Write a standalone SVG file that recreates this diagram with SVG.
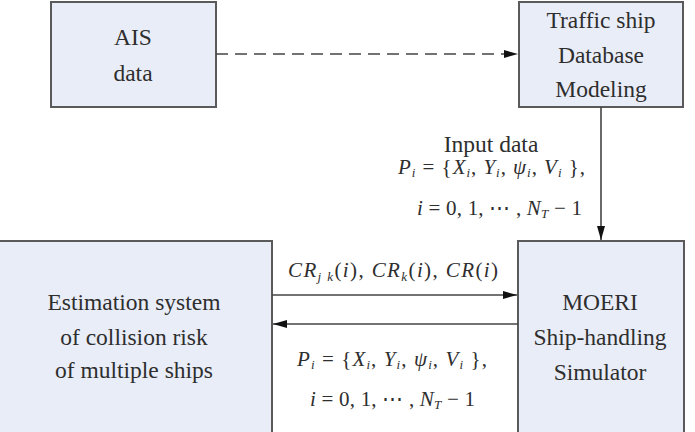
<svg xmlns="http://www.w3.org/2000/svg" width="695" height="432" viewBox="0 0 695 432">
  <style>
    .box { fill: #e9edf7; stroke: #5a5a5a; stroke-width: 2; }
    .lbl { font-family: "Liberation Serif", "Times New Roman", serif; font-size: 23.5px; fill: #2e2e2e; text-anchor: middle; }
    .eq { font-family: "Liberation Serif", "Times New Roman", serif; font-size: 21px; fill: #2e2e2e; }
    .v { font-style: italic; }
    .wire { stroke: #444; stroke-width: 1.6; fill: none; }
    .dash { stroke-dasharray: 12 7; }
  </style>
  <defs>
    <marker id="arrow" viewBox="0 0 14 8" refX="14" refY="4" markerWidth="14" markerHeight="8" markerUnits="userSpaceOnUse" orient="auto">
      <path d="M0,0 L14,4 L0,8 Z" fill="#111"/>
    </marker>
  </defs>

  <!-- blocks -->
  <g id="ais">
    <rect class="box" x="51" y="2" width="165" height="105"/>
    <text class="lbl" x="133" y="45">AIS</text>
    <text class="lbl" x="133" y="81">data</text>
  </g>
  <g id="traffic-db">
    <rect class="box" x="519" y="2" width="164" height="105"/>
    <text class="lbl" x="601" y="28">Traffic ship</text>
    <text class="lbl" x="601" y="63">Database</text>
    <text class="lbl" x="601" y="97">Modeling</text>
  </g>
  <g id="estimation">
    <rect class="box" x="-5" y="241" width="277" height="200"/>
    <text class="lbl" x="134" y="310">Estimation system</text>
    <text class="lbl" x="134" y="345">of collision risk</text>
    <text class="lbl" x="134" y="378">of multiple ships</text>
  </g>
  <g id="simulator">
    <rect class="box" x="518" y="241" width="166" height="200"/>
    <text class="lbl" x="600" y="310">MOERI</text>
    <text class="lbl" x="600" y="345">Ship-handling</text>
    <text class="lbl" x="600" y="380">Simulator</text>
  </g>

  <!-- connectors -->
  <g id="connectors">
    <line class="wire dash" x1="216" y1="54" x2="518" y2="54" marker-end="url(#arrow)"/>
    <line class="wire" x1="601" y1="107" x2="601" y2="240" marker-end="url(#arrow)"/>
    <line class="wire" x1="272" y1="295" x2="517" y2="295" marker-end="url(#arrow)"/>
    <line class="wire" x1="518" y1="324" x2="273" y2="324" marker-end="url(#arrow)"/>
  </g>

  <!-- connector labels -->
  <g id="labels">
    <text class="lbl" x="491" y="152">Input data</text>
    <text class="eq" x="398" y="174" textLength="187" lengthAdjust="spacing"><tspan class="v">P</tspan><tspan class="v" font-size="13" dy="3">i</tspan><tspan dy="-3"> = {</tspan><tspan class="v">X</tspan><tspan class="v" font-size="13" dy="3">i</tspan><tspan dy="-3">, </tspan><tspan class="v">Y</tspan><tspan class="v" font-size="13" dy="3">i</tspan><tspan dy="-3">, </tspan><tspan class="v">ψ</tspan><tspan class="v" font-size="13" dy="3">i</tspan><tspan dy="-3">, </tspan><tspan class="v">V</tspan><tspan class="v" font-size="13" dy="3">i</tspan><tspan dy="-3"> },</tspan></text>
    <text class="eq" x="417" y="215" textLength="165" lengthAdjust="spacing"><tspan class="v">i</tspan> = 0, 1, ⋯ , <tspan class="v">N</tspan><tspan class="v" font-size="13" dy="3">T</tspan><tspan dy="-3"> − 1</tspan></text>

    <text class="eq" x="288" y="277" textLength="210" lengthAdjust="spacing"><tspan class="v">CR</tspan><tspan class="v" font-size="13" dy="4">j k</tspan><tspan dy="-4">(</tspan><tspan class="v">i</tspan>), <tspan class="v">CR</tspan><tspan class="v" font-size="13" dy="4">k</tspan><tspan dy="-4">(</tspan><tspan class="v">i</tspan>), <tspan class="v">CR</tspan>(<tspan class="v">i</tspan>)</text>
    <text class="eq" x="297" y="366" textLength="190" lengthAdjust="spacing"><tspan class="v">P</tspan><tspan class="v" font-size="13" dy="3">i</tspan><tspan dy="-3"> = {</tspan><tspan class="v">X</tspan><tspan class="v" font-size="13" dy="3">i</tspan><tspan dy="-3">, </tspan><tspan class="v">Y</tspan><tspan class="v" font-size="13" dy="3">i</tspan><tspan dy="-3">, </tspan><tspan class="v">ψ</tspan><tspan class="v" font-size="13" dy="3">i</tspan><tspan dy="-3">, </tspan><tspan class="v">V</tspan><tspan class="v" font-size="13" dy="3">i</tspan><tspan dy="-3"> },</tspan></text>
    <text class="eq" x="310" y="406" textLength="165" lengthAdjust="spacing"><tspan class="v">i</tspan> = 0, 1, ⋯ , <tspan class="v">N</tspan><tspan class="v" font-size="13" dy="3">T</tspan><tspan dy="-3"> − 1</tspan></text>
  </g>
</svg>
